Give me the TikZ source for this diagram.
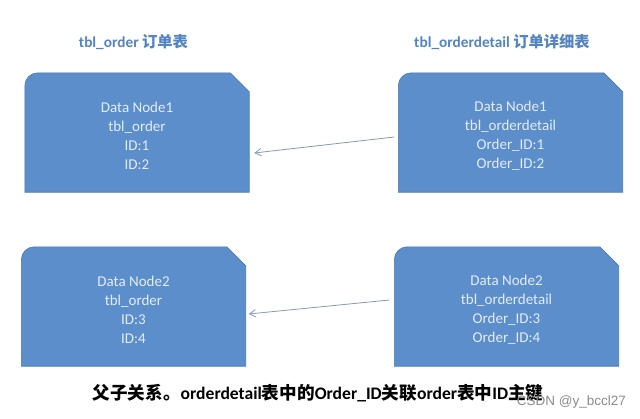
\documentclass[tikz,border=0pt]{standalone}
\usepackage{fontspec}
\setmainfont{Carlito}
\newfontfamily\cjk{Noto Sans CJK SC}
\newfontfamily\wmfont{Liberation Sans}
\usetikzlibrary{arrows.meta,backgrounds}
\definecolor{boxblue}{RGB}{91,142,203}
\definecolor{boxedge}{RGB}{72,120,182}
\definecolor{boxtext}{RGB}{228,236,246}
\definecolor{titleblue}{RGB}{84,132,194}
\definecolor{linkgrey}{RGB}{132,154,186}
\newcommand{\boxfont}{\fontsize{15}{19}\selectfont}
\newcommand{\ttlfont}{\fontsize{15.3}{18}\selectfont}
\newcommand{\capfont}{\fontsize{17.6}{20}\selectfont}
\tikzset{
  shardpic/.style={x=1pt, y=-1pt},
  % one shard of a table -- the text only, the outline comes from \shardshape
  dbox/.style={minimum width=224pt, minimum height=119pt, inner sep=0pt,
               align=center, font=\boxfont, text=boxtext},
  shardfill/.style={fill=boxblue, draw=boxedge, line width=0.6pt},
  % the table name over each column
  ttl/.style={font=\bfseries\ttlfont, text=titleblue, inner sep=0pt},
  % a child row pointing back to its parent
  link/.style={draw=linkgrey, line width=0.8pt,
               -{Straight Barb[length=2.2mm,width=2.6mm]}},
  note/.style={font=\bfseries\capfont, inner sep=0pt},
}
\newcommand{\shard}[4]{%
  \node[dbox] (#1) at (#2,#3) {#4};%
}
\newcommand{\shardshape}[1]{%
  \filldraw[shardfill] ([yshift=3pt]#1.south west) [rounded corners=13pt]
    -- ([yshift=3pt]#1.north west) [sharp corners]
    -- ([xshift=-19pt,yshift=3pt]#1.north east)
    -- ([yshift=-16pt]#1.north east) -- ([yshift=3pt]#1.south east) -- cycle;%
}

\begin{document}
\begin{tikzpicture}[shardpic]
  \useasboundingbox (0,0) rectangle (640,418);

  \node[ttl] (t1) at (133.5,42) {tbl\_order {\cjk 订单表}};
  \node[ttl] (t2) at (502,42) {tbl\_orderdetail {\cjk 订单详细表}};

  % the text sits 3px lower than the middle of its outline
  \shard{o1}{137}{135.5}{Data Node1\\tbl\_order\\ID:1\\ID:2}
  \shard{d1}{510.5}{135.5}{Data Node1\\tbl\_orderdetail\\Order\_ID:1\\Order\_ID:2}
  \shard{o2}{133.5}{309.5}{Data Node2\\tbl\_order\\ID:3\\ID:4}
  \shard{d2}{506.5}{309.5}{Data Node2\\tbl\_orderdetail\\Order\_ID:3\\Order\_ID:4}

  \draw[link] ([xshift=-4pt,yshift=-1.5pt]d1.west) -- ([xshift=5pt,yshift=-17.5pt]o1.east);
  \draw[link] ([xshift=-5pt,yshift=9.5pt]d2.west) -- ([xshift=3pt,yshift=-4.5pt]o2.east);

  \node[note] (cap) at (318,393) {{\cjk 父子关系。}orderdetail{\cjk 表中的}Order\_ID{\cjk 关联}order{\cjk 表中}ID{\cjk 主键}};
  \node[font=\wmfont\fontsize{13.5}{15}\selectfont, text=black!45, anchor=east, inner sep=0pt] (wm) at (626,402) {CSDN @y\_bccl27};

  \begin{scope}[on background layer]
    \fill[white] (0,0) rectangle (640,418);
    \shardshape{o1}
    \shardshape{d1}
    \shardshape{o2}
    \shardshape{d2}
  \end{scope}
\end{tikzpicture}
\end{document}
